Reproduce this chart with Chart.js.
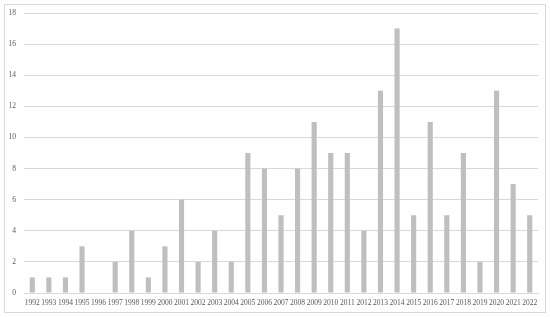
<!DOCTYPE html>
<html>
<head>
<meta charset="utf-8">
<script src="https://cdn.jsdelivr.net/npm/chart.js@4/dist/chart.umd.min.js"></script>
<style>
  html, body { margin: 0; padding: 0; background: #fff; }
  #wrap { width: 550px; height: 317px; position: relative; }
</style>
</head>
<body>
<div id="wrap"><canvas id="c" width="550" height="317"></canvas></div>
<script>
const years = [
  '1992', '1993', '1994', '1995', '1996', '1997', '1998', '1999', '2000', '2001',
  '2002', '2003', '2004', '2005', '2006', '2007', '2008', '2009', '2010', '2011',
  '2012', '2013', '2014', '2015', '2016', '2017', '2018', '2019', '2020', '2021', '2022',
];
const counts = [
  1, 1, 1, 3, 0, 2, 4, 1, 3, 6,
  2, 4, 2, 9, 8, 5, 8, 11, 9, 9,
  4, 13, 17, 5, 11, 5, 9, 2, 13, 7, 5,
];
const yMax = 18;
const yStep = 2;

const frame = {
  id: 'frame',
  beforeDraw: (chart) => {
    const ctx = chart.ctx;
    ctx.save();
    ctx.strokeStyle = '#d9d9d9';
    ctx.lineWidth = 1;
    ctx.strokeRect(4.5, 4.5, 541, 308);
    ctx.restore();
  },
};

const font = { family: "'Liberation Serif', 'DejaVu Serif', serif", size: 7.5 };

new Chart(document.getElementById('c'), {
  type: 'bar',
  data: {
    labels: years,
    datasets: [{
      data: counts,
      backgroundColor: '#bfbfbf',
      borderWidth: 0,
      barPercentage: 0.62,
      categoryPercentage: 0.5,
    }],
  },
  options: {
    responsive: false,
    animation: false,
    layout: { padding: { top: 13, right: 12, left: 0, bottom: 0 } },
    plugins: { legend: { display: false }, tooltip: { enabled: false } },
    scales: {
      x: {
        grid: { display: false, drawTicks: false },
        border: { display: true, color: '#d9d9d9' },
        ticks: { color: '#595959', font, autoSkip: false, maxRotation: 0, padding: 6 },
        afterFit: (s) => { s.height = 24; },
      },
      y: {
        min: 0,
        max: yMax,
        grid: { color: '#d9d9d9', drawTicks: false },
        border: { display: false },
        ticks: { stepSize: yStep, color: '#595959', font, padding: 8 },
        afterFit: (s) => { s.width = 24; },
      },
    },
  },
  plugins: [frame],
});
</script>
</body>
</html>
